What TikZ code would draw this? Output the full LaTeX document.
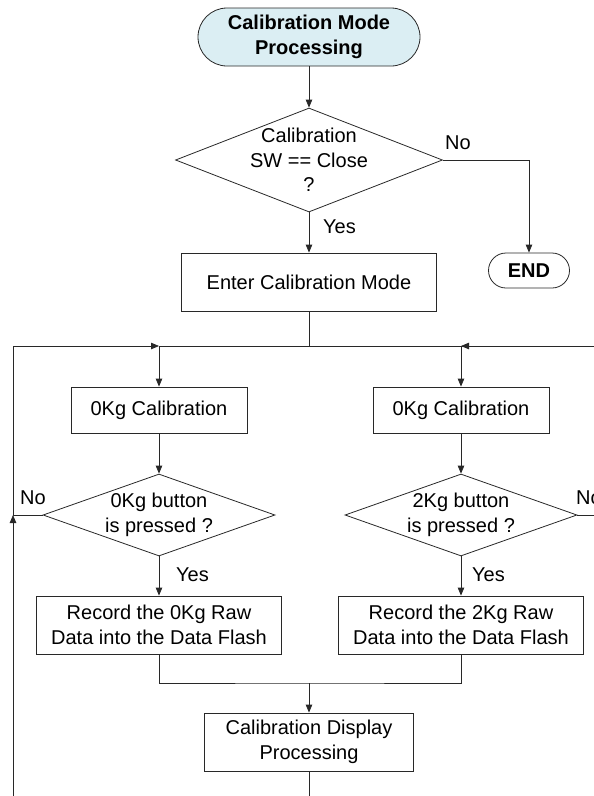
\documentclass[tikz,border=0pt]{standalone}
\usepackage{fontspec}
\setmainfont{Liberation Sans}
\usetikzlibrary{shapes.geometric,arrows.meta}
\definecolor{termfill}{RGB}{219,238,243}
\definecolor{linec}{RGB}{40,40,40}
\begin{document}
\begin{tikzpicture}[x=1pt,y=-1pt,
  every node/.style={font=\fontsize{20}{24.5}\selectfont, text=black},
  line/.style={draw=linec, line width=0.8pt},
  arr/.style={line, -{Triangle[length=8pt,width=6.5pt]}},
  term/.style={draw=linec, line width=0.8pt, fill=termfill, rectangle, align=center,
    inner sep=0pt, font=\fontsize{20}{24.5}\selectfont\bfseries},
  proc/.style={draw=linec, line width=0.8pt, rectangle, align=center, inner sep=0pt},
  dec/.style={draw=linec, line width=0.8pt, diamond, inner sep=0pt},
  dtext/.style={align=center, inner sep=0pt},
  lbl/.style={anchor=west, inner sep=0pt}]
\useasboundingbox (0,0) rectangle (594,796);

% nodes
\node[term, minimum width=222pt, minimum height=58pt, rounded corners=29pt] (start) at (309,37) {Calibration Mode\\Processing};
\node[dec, minimum width=267pt, minimum height=104pt] (d1) at (309,160) {};
\node[dtext] (d1t) at (309,160) {Calibration\\SW == Close\\?};
\node[term, fill=white, minimum width=81pt, minimum height=35pt, rounded corners=17.5pt] (endn) at (529,270.5) {END};
\node[proc, minimum width=255pt, minimum height=58pt] (enter) at (309,282) {Enter Calibration Mode};

\node[proc, minimum width=176pt, minimum height=46pt] (cal0) at (159,410) {0Kg Calibration};
\node[proc, minimum width=176pt, minimum height=46pt] (cal2) at (461,410) {0Kg Calibration};

\node[dec, minimum width=232pt, minimum height=82pt] (d2) at (159,515) {};
\node[dtext] (d2t) at (159,515) {0Kg button\\is pressed ?};
\node[dec, minimum width=232pt, minimum height=82pt] (d3) at (461,515) {};
\node[dtext] (d3t) at (461,515) {2Kg button\\is pressed ?};

\node[proc, minimum width=245pt, minimum height=58pt] (rec0) at (159,625) {Record the 0Kg Raw\\Data into the Data Flash};
\node[proc, minimum width=245pt, minimum height=58pt] (rec2) at (461,625) {Record the 2Kg Raw\\Data into the Data Flash};
\node[proc, minimum width=209pt, minimum height=58pt] (disp) at (309,742) {Calibration Display\\Processing};

% labels
\node[lbl] (yes1) at (323,227) {Yes};
\node[lbl] (no1) at (445,143) {No};
\node[lbl] (no2) at (20,498) {No};
\node[lbl] (yes2) at (176,575) {Yes};
\node[lbl] (no3) at (576,498) {No};
\node[lbl] (yes3) at (472,575) {Yes};

% coordinates
\coordinate (hl) at (13,346);
\coordinate (hr) at (594,346);
\coordinate (hm) at (309,346);
\coordinate (lb) at (13,796);
\coordinate (m) at (309,683);

% connectors
\draw[arr] (start) -- (d1);
\draw[arr] (d1.south) -- (enter.north);
\draw[arr] (d1.east) -| (endn.north);
\draw[line] (enter.south) -- (hm);

\draw[arr] (hl) -- (hl -| cal0);
\draw[line] (hl -| cal0) -- (hr);
\draw[arr] (hr) -- (hr -| cal2);
\draw[arr] (hl -| cal0) -- (cal0.north);
\draw[arr] (hr -| cal2) -- (cal2.north);

\draw[arr] (cal0) -- (d2);
\draw[arr] (cal2) -- (d3);
\draw[arr] (d2.south) -- (rec0.north);
\draw[arr] (d3.south) -- (rec2.north);

\draw[arr] (lb) -- (lb |- d2.west);
\draw[line] (d2.west) -- (lb |- d2.west) -- (hl);
\draw[line] (d3.east) -- (d3.east -| hr);

\draw[line] (rec0.south) |- (m) -| (rec2.south);
\draw[arr] (m) -- (disp.north);
\draw[line] (disp.south) -- (disp.south |- lb);
\end{tikzpicture}
\end{document}
